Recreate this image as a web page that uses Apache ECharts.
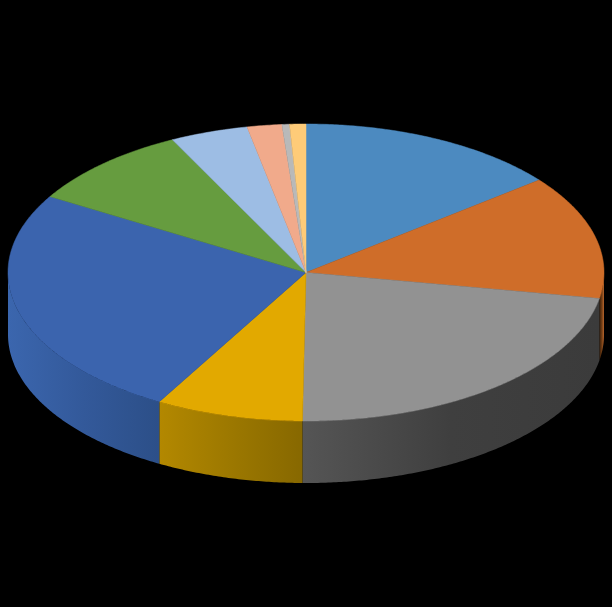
<!DOCTYPE html>
<html>
<head>
<meta charset="utf-8">
<style>html,body{margin:0;padding:0;background:#000}#c{width:612px;height:607px}</style>
<script src="https://cdn.jsdelivr.net/npm/echarts@6/dist/echarts.min.js"></script>
</head>
<body>
<div id="c"></div>
<script>
var categories = ['A','B','C','D','E','F','G','H','I','J'];
var values = [14.3, 13.5, 22.39, 8.0, 25.36, 9.05, 4.23, 1.88, 0.41, 0.88];
var topColors = ['#4c8ac0','#cf6d29','#929292','#e2a900','#3b64ae','#669c3f','#9dbde4','#f1aa8b','#b9b9b9','#fecb78'];
var sideLeftColors = ['#4c8ac0','#3a1e08','#555555','#b38800','#3b66ae','#669c3f','#9dbde4','#f1aa8b','#b9b9b9','#fecb78'];
var sideMidColors = ['#4c8ac0','#6e3c15','#3f3f3f','#9c7800','#33599a','#669c3f','#9dbde4','#f1aa8b','#b9b9b9','#fecb78'];
var sideRightColors = ['#4c8ac0','#b8642a','#3b3b3b','#876800','#2c4f88','#669c3f','#9dbde4','#f1aa8b','#b9b9b9','#fecb78'];

var cx = 306, cy = 272.5, rx = 298, ry = 148.5, depth = 62;
var total = values.reduce(function (a, b) { return a + b; }, 0);

function pt(deg, dy) {
  var r = deg * Math.PI / 180;
  return [cx + rx * Math.sin(r), cy - ry * Math.cos(r) + (dy || 0)];
}
function startAngle(i) {
  var s = 0;
  for (var k = 0; k < i; k++) s += values[k];
  return s / total * 360;
}
function arc(a0, a1, dy) {
  var pts = [], n = Math.max(2, Math.ceil((a1 - a0) * 2));
  for (var k = 0; k <= n; k++) pts.push(pt(a0 + (a1 - a0) * k / n, dy));
  return pts;
}

function renderItem(params, api) {
  var i = params.dataIndex;
  var v = api.value(1);
  var a0 = startAngle(i), a1 = a0 + v / total * 360;
  var children = [];
  var s0 = Math.max(a0, 90), s1 = Math.min(a1, 270);
  if (s1 > s0) {
    var upper = arc(s0, s1, 0), lower = arc(s0, s1, depth).reverse();
    var xs = upper.map(function (p) { return p[0]; });
    var minX = Math.min.apply(null, xs), maxX = Math.max.apply(null, xs);
    children.push({
      type: 'polygon', z2: 1,
      shape: { points: upper.concat(lower) },
      style: {
        fill: new echarts.graphic.LinearGradient(minX, 0, maxX, 0, [
          { offset: 0, color: sideLeftColors[i] },
          { offset: 0.5, color: sideMidColors[i] },
          { offset: 1, color: sideRightColors[i] }
        ], true)
      }
    });
  }
  children.push({
    type: 'polygon', z2: 2,
    shape: { points: [[cx, cy]].concat(arc(a0, a1, 0)) },
    style: { fill: topColors[i], stroke: topColors[i], lineWidth: 0.5 }
  });
  return { type: 'group', children: children };
}

var chart = echarts.init(document.getElementById('c'), null, { renderer: 'canvas' });
chart.setOption({
  backgroundColor: '#000000',
  animation: false,
  series: [{
    type: 'custom',
    coordinateSystem: 'none',
    renderItem: renderItem,
    data: categories.map(function (c, i) { return [i, values[i]]; }),
    silent: true
  }]
});
</script>
</body>
</html>
